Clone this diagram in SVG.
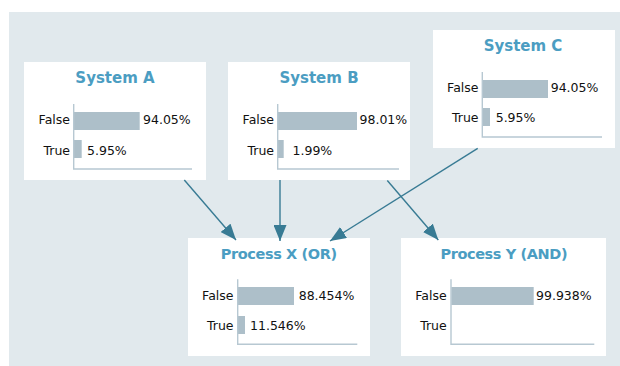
<svg xmlns="http://www.w3.org/2000/svg" width="620" height="366" viewBox="0 0 620 366">
  <style>
    .box { fill: #ffffff; }
    .title { font-family: "DejaVu Sans", "Liberation Sans", sans-serif; font-weight: bold; font-size: 15px; fill: #4b9dc2; text-anchor: middle; }
    .ptitle { font-size: 14.5px; letter-spacing: -0.4px; }
    .lbl { font-family: "DejaVu Sans", "Liberation Sans", sans-serif; font-size: 12.5px; fill: #111111; text-anchor: end; }
    .val { font-family: "DejaVu Sans", "Liberation Sans", sans-serif; font-size: 12.5px; fill: #111111; }
    .bar { fill: #adbfc9; }
    .axis { fill: none; stroke: #b7c8d2; stroke-width: 1.4; }
    .conn { fill: none; stroke: #387b94; stroke-width: 1.4; marker-end: url(#arrow); }
  </style>
  <defs>
    <marker id="arrow" viewBox="0 0 16 13" refX="16" refY="6.5" markerWidth="16" markerHeight="13" markerUnits="userSpaceOnUse" orient="auto">
      <path d="M0,0 L16,6.5 L0,13 Z" fill="#387b94"/>
    </marker>
  </defs>
  <rect x="9" y="12" width="611" height="354" fill="#e1e9ed"/>

  <g id="system-a">
    <rect class="box" x="24" y="62" width="182" height="118"/>
    <text class="title" x="115" y="83">System A</text>
    <rect class="bar" x="74" y="112" width="65.7" height="18"/>
    <rect class="bar" x="74" y="140" width="7.7" height="18"/>
    <path class="axis" d="M73.7,104 V169 H192"/>
    <text class="lbl" x="70" y="124">False</text>
    <text class="lbl" x="70" y="155">True</text>
    <text class="val" x="143" y="124">94.05%</text>
    <text class="val" x="87" y="155">5.95%</text>
  </g>

  <g id="system-b">
    <rect class="box" x="228" y="62" width="182" height="118"/>
    <text class="title" x="319" y="83">System B</text>
    <rect class="bar" x="278" y="112" width="79" height="18"/>
    <rect class="bar" x="278" y="140" width="5.7" height="18"/>
    <path class="axis" d="M277.7,104 V169 H399"/>
    <text class="lbl" x="274" y="124">False</text>
    <text class="lbl" x="274" y="155">True</text>
    <text class="val" x="359.5" y="124">98.01%</text>
    <text class="val" x="292.5" y="155">1.99%</text>
  </g>

  <g id="system-c">
    <rect class="box" x="433" y="30" width="182" height="118"/>
    <text class="title" x="523" y="51">System C</text>
    <rect class="bar" x="482.5" y="80" width="65.5" height="18"/>
    <rect class="bar" x="482.5" y="108" width="7.5" height="18"/>
    <path class="axis" d="M482.3,72 V137 H602"/>
    <text class="lbl" x="478.5" y="92">False</text>
    <text class="lbl" x="478.5" y="122">True</text>
    <text class="val" x="550.7" y="92">94.05%</text>
    <text class="val" x="495.7" y="122">5.95%</text>
  </g>

  <g id="process-x">
    <rect class="box" x="188" y="238" width="182" height="118"/>
    <text class="title ptitle" x="278.7" y="259">Process X (OR)</text>
    <rect class="bar" x="238" y="287" width="56" height="18"/>
    <rect class="bar" x="238" y="316" width="7" height="18"/>
    <path class="axis" d="M237.7,279.3 V344.3 H357.3"/>
    <text class="lbl" x="233.5" y="299.5">False</text>
    <text class="lbl" x="233.5" y="330">True</text>
    <text class="val" x="298.7" y="299.5">88.454%</text>
    <text class="val" x="250" y="330">11.546%</text>
  </g>

  <g id="process-y">
    <rect class="box" x="401" y="238" width="205" height="118"/>
    <text class="title ptitle" x="503.8" y="259">Process Y (AND)</text>
    <rect class="bar" x="451.3" y="287" width="82.4" height="18"/>
    <path class="axis" d="M451,279.3 V344.3 H594.3"/>
    <text class="lbl" x="446.7" y="299.5">False</text>
    <text class="lbl" x="446.7" y="330">True</text>
    <text class="val" x="536" y="299.5">99.938%</text>
  </g>

  <g id="connectors">
    <line class="conn" x1="184.3" y1="180" x2="236" y2="240"/>
    <line class="conn" x1="280" y1="180" x2="280" y2="241"/>
    <line class="conn" x1="477.7" y1="148.3" x2="330" y2="241"/>
    <line class="conn" x1="387.3" y1="180.5" x2="438.3" y2="240"/>
  </g>
</svg>
